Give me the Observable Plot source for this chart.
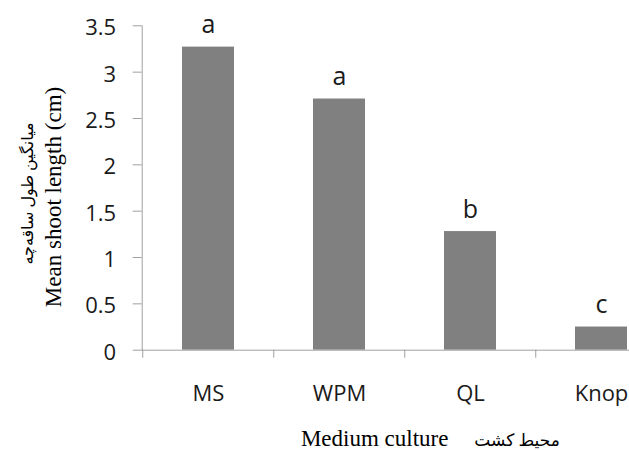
<!DOCTYPE html>
<html>
<head>
<meta charset="utf-8">
<script src="https://cdn.jsdelivr.net/npm/d3@7"></script>
<script src="https://cdn.jsdelivr.net/npm/@observablehq/plot@0.6"></script>
<style>
  html, body { margin: 0; padding: 0; background: white; overflow: hidden; }
</style>
</head>
<body>
<div id="chart"></div>
<script>
// ---- data ----
const categories = ["MS", "WPM", "QL", "Knop"];
const values = [3.27, 2.71, 1.28, 0.25];
const letters = ["a", "a", "b", "c"];
const yTicks = [0, 0.5, 1, 1.5, 2, 2.5, 3, 3.5];
const yTitleEn = "Mean shoot length (cm)";
const yTitleFa = "میانگین طول ساقه‌چه";
const xTitleEn = "Medium culture";
const xTitleFa = "محیط کشت";

const data = categories.map((c, i) => ({category: c, value: values[i], letter: letters[i]}));

// ---- styles ----
const axisGray = "#a0a0a0";
const textColor = "#1a1a1a";
const sansFont = "'Open Sans', sans-serif";
const serifFont = "'Liberation Serif', 'DejaVu Sans', serif";
const xRange = [141.7, 667.7];
const step = (xRange[1] - xRange[0]) / 4;

const chart = Plot.plot({
  width: 629,
  height: 450,
  marginTop: 25.3,
  marginBottom: 100.3,
  marginLeft: 141.7,
  marginRight: 0,
  style: {fontFamily: sansFont, overflow: "hidden", background: "white", color: textColor},
  x: {domain: categories, range: xRange, paddingInner: 0.6, paddingOuter: 0.3, axis: null},
  y: {domain: [0, 3.5], axis: null},
  marks: [
    Plot.barY(data, {x: "category", y: "value", fill: "#808080"}),
    Plot.ruleY([0], {stroke: axisGray}),
    Plot.frame({anchor: "left", stroke: axisGray}),
    // y ticks
    Plot.axisY({ticks: yTicks, tickSize: 9, tickPadding: 0, fill: "none", stroke: axisGray, label: null}),
    // y tick labels
    Plot.axisY({ticks: yTicks, tickFormat: d => String(d), tickSize: 0, tickPadding: 26, fontSize: 22, fill: textColor, dy: 2.5, label: null}),
    // category boundary ticks
    Plot.axisX({tickSize: 8, fill: "none", stroke: axisGray, dx: -step / 2, label: null}),
    // category labels
    Plot.axisX({tickSize: 0, tickPadding: 35, fontSize: 22, fill: textColor, label: null}),
    // significance letters
    Plot.text(data, {x: "category", y: "value", text: "letter", lineAnchor: "bottom", dy: -14, fontSize: 25, fill: textColor}),
    // y titles
    Plot.text([yTitleEn], {text: d => d, frameAnchor: "left", textAnchor: "middle", lineAnchor: "middle", rotate: -90, dx: -88.7, dy: 9, fontSize: 23, fontFamily: serifFont, fill: "black"}),
    Plot.text([yTitleFa], {text: d => d, frameAnchor: "left", textAnchor: "middle", lineAnchor: "middle", rotate: -90, dx: -114.7, dy: 5.5, fontSize: 16, fontFamily: serifFont, fill: "black"}),
    // x titles
    Plot.text([xTitleEn], {text: d => d, frameAnchor: "bottom", textAnchor: "end", lineAnchor: "bottom", dx: 62.6, dy: 95.3, fontSize: 23, fontFamily: serifFont, fill: "black"}),
    Plot.text([xTitleFa], {text: d => d, frameAnchor: "bottom", textAnchor: "middle", lineAnchor: "bottom", dx: 131.2, dy: 95.3, fontSize: 17, fontFamily: serifFont, fill: "black"})
  ]
});
document.getElementById("chart").appendChild(chart);
</script>
</body>
</html>
